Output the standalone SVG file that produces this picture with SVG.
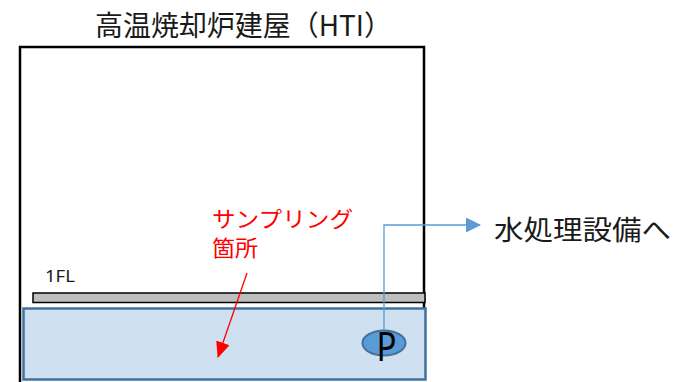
<svg xmlns="http://www.w3.org/2000/svg" width="675" height="382" viewBox="0 0 675 382">
<style>
.jp{font-family:"Noto Sans CJK JP","Noto Sans",sans-serif;}
.lat{font-family:"Noto Sans","Liberation Sans",sans-serif;}
</style>
<defs>
<marker id="blueHead" markerWidth="15" markerHeight="15" refX="14" refY="7.5" orient="auto" markerUnits="userSpaceOnUse">
<path d="M0,0 L15,7.5 L0,15 Z" fill="#5b9bd5"/>
</marker>
<marker id="redHead" markerWidth="16" markerHeight="14" refX="15" refY="7" orient="auto" markerUnits="userSpaceOnUse">
<path d="M0,0 L16,7 L0,14 Z" fill="#ff0000"/>
</marker>
</defs>
<rect width="675" height="382" fill="#ffffff"/>
<g id="title">
<text class="jp" x="95" y="36" font-size="28" textLength="297" lengthAdjust="spacingAndGlyphs" fill="#1a1a1a">高温焼却炉建屋（HTI）</text>
</g>
<g id="building">
<path d="M20,382 V47 H424 V308" fill="none" stroke="#000" stroke-width="2.5"/>
</g>
<g id="floor">
<rect x="33" y="293" width="392" height="9.5" fill="#bfbfbf" stroke="#000" stroke-width="1.5"/>
<text class="lat" x="45" y="282" font-size="16" textLength="30" lengthAdjust="spacingAndGlyphs" fill="#1a1a1a">1FL</text>
</g>
<g id="basement">
<rect x="23.5" y="308.5" width="402" height="71" fill="#cfe0f1" stroke="#41719c" stroke-width="2.5"/>
</g>
<g id="connectors">
<polyline points="384,331 384,225 480,225" fill="none" stroke="#5b9bd5" stroke-width="1.3" marker-end="url(#blueHead)"/>
<line x1="247" y1="273" x2="218" y2="357" stroke="#ff0000" stroke-width="1.3" marker-end="url(#redHead)"/>
</g>
<g id="pump">
<ellipse cx="384" cy="343" rx="21.5" ry="12.5" fill="#5b9bd5" stroke="#41719c" stroke-width="2"/>
<text class="lat" x="376.5" y="361" font-size="40" textLength="20" lengthAdjust="spacingAndGlyphs" fill="#000">P</text>
</g>
<g id="sampling">
<text class="jp" x="212" y="227" font-size="22" textLength="141" lengthAdjust="spacingAndGlyphs" fill="#ff0000">サンプリング</text>
<text class="jp" x="212" y="256" font-size="22" textLength="46" lengthAdjust="spacingAndGlyphs" fill="#ff0000">箇所</text>
</g>
<g id="water">
<text class="jp" x="494" y="240" font-size="27" textLength="177" lengthAdjust="spacingAndGlyphs" fill="#1a1a1a">水処理設備へ</text>
</g>
</svg>
